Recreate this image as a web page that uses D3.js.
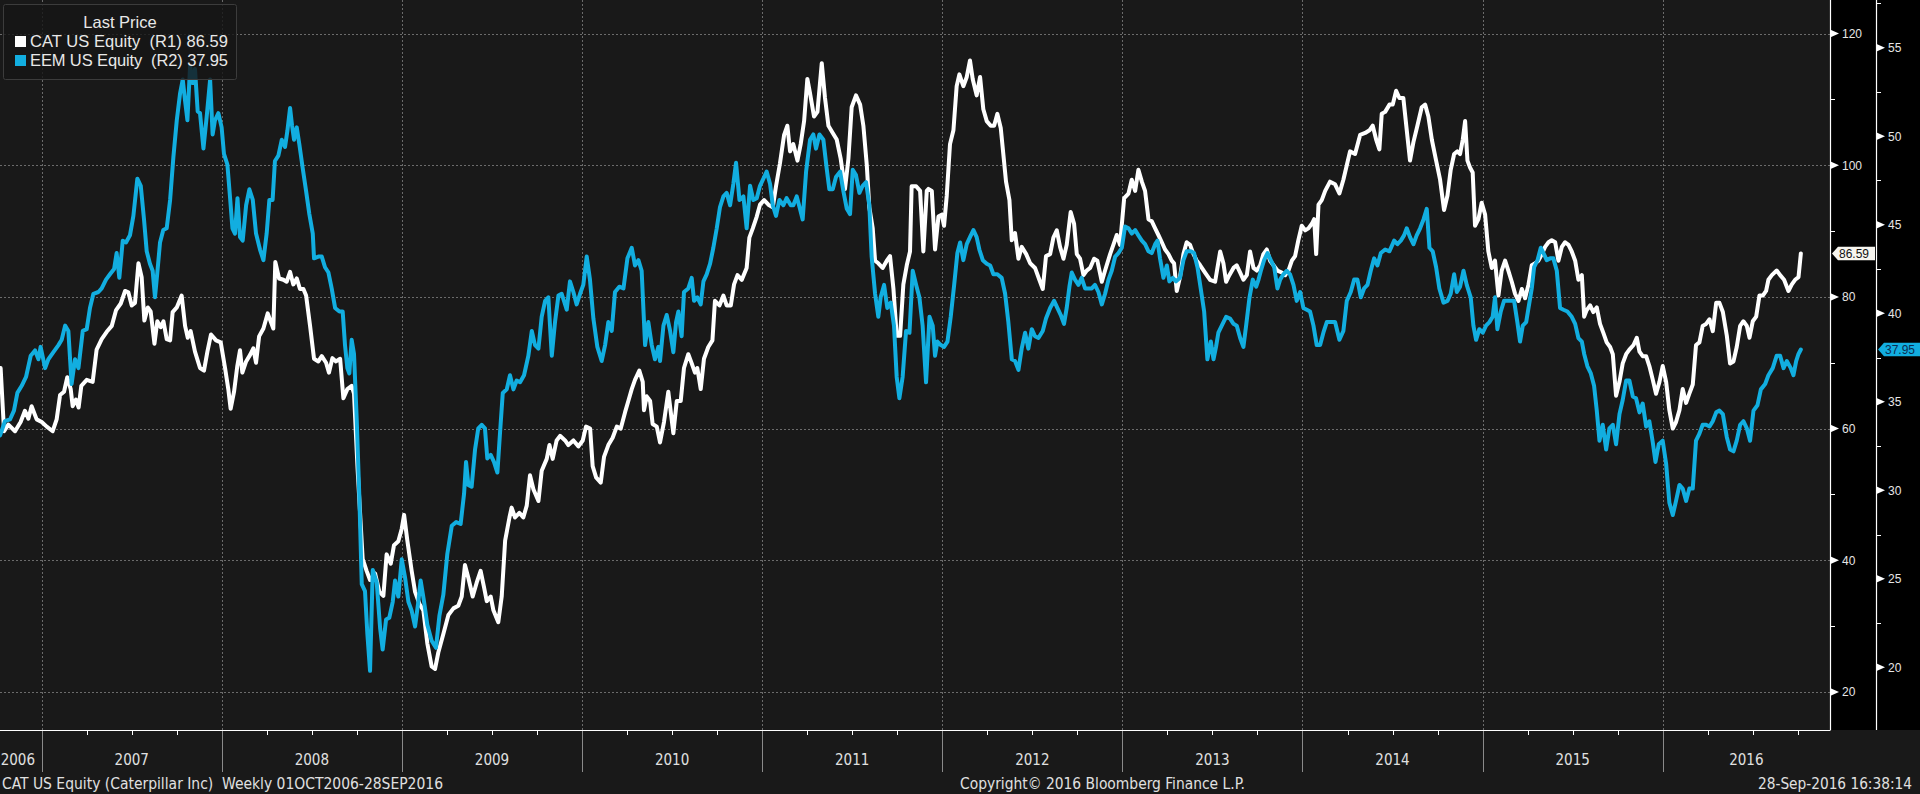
<!DOCTYPE html>
<html lang="en">
<head>
<meta charset="UTF-8">
<title>CAT vs EEM</title>
<script src="https://d3js.org/d3.v7.min.js"></script>
<style>
    body { margin: 0; background-color: #191919; overflow: hidden; }
    svg { display: block; }
    .lbl { font-family: "Liberation Sans", Arial, sans-serif; }
    .narrow { font-family: "Liberation Sans Narrow", "DejaVu Sans Condensed", "Liberation Sans", sans-serif; }
</style>
</head>
<body>
<svg id="chart" width="1920" height="794"></svg>
<script>
// weekly closes, x = decimal year
const catSeries = [
 [2006.772,69.2],[2006.791,59.6],[2006.815,60.6],[2006.852,59.6],[2006.883,61.0],[2006.907,62.7],[2006.926,61.5],[2006.944,63.4],[2006.972,61.4],[2007.000,61.0],
 [2007.028,60.3],[2007.061,59.6],[2007.083,61.4],[2007.102,65.1],[2007.124,65.6],[2007.142,67.8],[2007.161,66.0],[2007.172,63.4],[2007.190,64.4],[2007.205,63.2],
 [2007.220,66.5],[2007.250,67.4],[2007.283,67.1],[2007.305,72.0],[2007.333,73.6],[2007.361,74.7],[2007.389,75.6],[2007.413,78.0],[2007.439,79.0],[2007.463,80.9],
 [2007.481,80.7],[2007.500,78.7],[2007.518,79.1],[2007.537,85.1],[2007.555,83.0],[2007.570,76.4],[2007.589,78.4],[2007.605,77.8],[2007.626,72.9],[2007.642,76.3],
 [2007.661,75.4],[2007.676,76.3],[2007.694,73.6],[2007.713,73.4],[2007.727,77.7],[2007.750,78.4],[2007.777,80.2],[2007.796,75.6],[2007.811,73.8],[2007.827,74.8],
 [2007.851,71.7],[2007.879,69.2],[2007.901,68.8],[2007.920,71.7],[2007.940,74.3],[2007.968,73.4],[2007.994,73.1],[2008.018,69.2],[2008.036,66.0],[2008.049,63.0],
 [2008.068,65.6],[2008.086,69.5],[2008.101,71.9],[2008.114,68.5],[2008.135,70.2],[2008.157,71.2],[2008.175,72.2],[2008.190,70.0],[2008.207,74.0],[2008.231,75.2],
 [2008.255,77.5],[2008.271,76.3],[2008.286,75.2],[2008.297,85.3],[2008.318,82.8],[2008.342,82.6],[2008.360,82.3],[2008.379,83.8],[2008.397,81.9],[2008.416,82.8],
 [2008.434,81.2],[2008.453,81.2],[2008.468,80.2],[2008.490,75.6],[2008.512,70.6],[2008.536,70.2],[2008.555,71.0],[2008.579,70.0],[2008.595,68.5],[2008.614,70.7],
 [2008.634,70.2],[2008.657,70.6],[2008.675,64.6],[2008.697,66.0],[2008.721,66.5],[2008.734,65.3],[2008.753,54.3],[2008.782,40.2],[2008.804,38.4],[2008.823,37.0],
 [2008.851,38.0],[2008.875,35.2],[2008.897,34.6],[2008.915,40.9],[2008.938,39.5],[2008.956,42.3],[2008.980,42.9],[2008.999,44.8],[2009.012,46.9],[2009.030,43.0],
 [2009.054,38.4],[2009.073,35.2],[2009.097,33.4],[2009.119,32.4],[2009.141,27.4],[2009.165,23.9],[2009.184,23.5],[2009.202,26.0],[2009.230,28.8],[2009.258,31.7],
 [2009.286,32.7],[2009.313,33.1],[2009.332,34.5],[2009.350,39.3],[2009.369,37.3],[2009.393,34.5],[2009.415,36.6],[2009.437,38.4],[2009.456,35.9],[2009.471,33.8],
 [2009.493,34.5],[2009.508,32.4],[2009.535,30.6],[2009.554,34.5],[2009.573,43.0],[2009.597,46.5],[2009.609,48.0],[2009.628,46.5],[2009.652,47.2],[2009.674,46.5],
 [2009.693,48.3],[2009.711,52.9],[2009.730,50.8],[2009.758,49.0],[2009.776,53.6],[2009.804,55.4],[2009.819,57.5],[2009.837,55.4],[2009.859,58.2],[2009.878,58.9],
 [2009.906,58.2],[2009.924,57.5],[2009.952,58.2],[2009.980,57.3],[2010.004,58.2],[2010.022,60.3],[2010.045,60.0],[2010.059,54.3],[2010.078,52.6],[2010.104,51.8],
 [2010.122,55.7],[2010.146,57.5],[2010.170,58.6],[2010.193,60.3],[2010.215,60.0],[2010.239,62.5],[2010.257,64.2],[2010.276,66.0],[2010.294,67.4],[2010.318,68.8],
 [2010.337,67.1],[2010.344,62.8],[2010.359,64.9],[2010.378,64.2],[2010.392,60.7],[2010.415,60.3],[2010.433,57.9],[2010.455,61.0],[2010.479,65.6],[2010.507,59.3],
 [2010.526,64.2],[2010.548,64.2],[2010.566,69.2],[2010.590,71.3],[2010.609,69.9],[2010.627,68.5],[2010.640,69.2],[2010.659,66.0],[2010.677,70.6],[2010.701,72.4],
 [2010.724,73.4],[2010.738,79.4],[2010.763,78.7],[2010.785,80.2],[2010.803,78.7],[2010.826,78.7],[2010.844,81.9],[2010.863,83.3],[2010.887,82.6],[2010.914,84.4],
 [2010.929,89.0],[2010.948,90.4],[2010.970,92.2],[2010.988,94.0],[2011.011,94.7],[2011.035,94.0],[2011.059,93.6],[2011.077,96.8],[2011.099,100.3],[2011.122,104.6],
 [2011.140,106.0],[2011.155,102.1],[2011.173,103.2],[2011.196,100.7],[2011.214,103.2],[2011.233,106.7],[2011.251,113.1],[2011.266,110.9],[2011.288,107.4],[2011.307,108.1],
 [2011.331,115.5],[2011.349,110.2],[2011.368,106.0],[2011.392,104.9],[2011.414,103.9],[2011.436,101.0],[2011.460,96.4],[2011.479,101.0],[2011.497,108.8],[2011.521,110.6],
 [2011.544,109.2],[2011.562,106.0],[2011.581,100.0],[2011.595,93.6],[2011.614,90.4],[2011.627,85.5],[2011.645,85.1],[2011.669,84.4],[2011.692,85.5],[2011.710,86.2],
 [2011.729,81.2],[2011.747,74.1],[2011.766,74.1],[2011.784,81.9],[2011.803,84.8],[2011.821,86.9],[2011.830,96.8],[2011.855,96.8],[2011.877,96.1],[2011.895,86.9],
 [2011.914,96.1],[2011.923,96.4],[2011.942,96.1],[2011.960,87.2],[2011.979,92.2],[2011.997,92.5],[2012.010,90.8],[2012.025,95.4],[2012.043,103.2],[2012.062,105.3],
 [2012.080,112.0],[2012.095,113.8],[2012.117,112.0],[2012.136,113.4],[2012.154,115.9],[2012.169,113.1],[2012.191,110.6],[2012.210,113.4],[2012.228,108.5],[2012.247,106.7],
 [2012.269,106.0],[2012.288,106.0],[2012.306,107.8],[2012.325,105.6],[2012.339,101.7],[2012.354,97.5],[2012.373,94.7],[2012.386,88.6],[2012.404,89.7],[2012.423,85.8],
 [2012.441,87.6],[2012.466,86.5],[2012.488,85.1],[2012.515,84.4],[2012.539,82.6],[2012.558,81.2],[2012.576,86.2],[2012.599,86.5],[2012.617,89.0],[2012.636,90.1],
 [2012.654,87.6],[2012.673,85.8],[2012.691,87.9],[2012.713,92.9],[2012.732,91.1],[2012.747,86.5],[2012.765,85.8],[2012.784,83.3],[2012.802,84.0],[2012.821,84.4],
 [2012.843,85.8],[2012.861,85.5],[2012.886,82.3],[2012.904,84.0],[2012.932,86.5],[2012.950,87.9],[2012.969,89.4],[2012.987,87.9],[2013.010,95.0],[2013.034,95.7],
 [2013.052,97.8],[2013.071,96.1],[2013.089,99.3],[2013.108,97.5],[2013.126,96.1],[2013.145,91.8],[2013.163,91.5],[2013.182,90.4],[2013.200,89.4],[2013.219,88.3],
 [2013.237,87.2],[2013.256,86.5],[2013.274,85.5],[2013.287,85.1],[2013.302,80.9],[2013.320,83.0],[2013.339,86.5],[2013.357,88.3],[2013.376,87.9],[2013.395,86.5],
 [2013.413,85.5],[2013.432,84.8],[2013.459,83.7],[2013.487,82.6],[2013.515,82.3],[2013.543,86.9],[2013.561,85.1],[2013.576,82.3],[2013.594,83.3],[2013.617,84.4],
 [2013.635,84.8],[2013.654,83.7],[2013.672,82.6],[2013.691,83.3],[2013.709,86.9],[2013.728,84.4],[2013.746,84.0],[2013.765,84.8],[2013.783,86.5],[2013.802,87.2],
 [2013.820,85.5],[2013.839,84.8],[2013.861,84.0],[2013.885,83.7],[2013.904,83.3],[2013.922,84.0],[2013.941,85.5],[2013.959,86.2],[2013.977,88.6],[2013.996,90.8],
 [2014.015,90.1],[2014.033,90.4],[2014.052,91.1],[2014.065,91.8],[2014.076,86.5],[2014.089,94.0],[2014.107,94.7],[2014.126,96.1],[2014.153,97.5],[2014.181,97.1],
 [2014.205,95.7],[2014.227,97.8],[2014.246,100.0],[2014.264,102.1],[2014.292,101.7],[2014.320,104.6],[2014.348,104.9],[2014.372,105.3],[2014.390,106.0],[2014.409,103.9],
 [2014.427,102.4],[2014.440,107.8],[2014.459,108.1],[2014.483,109.2],[2014.501,109.2],[2014.520,111.3],[2014.538,110.2],[2014.560,110.2],[2014.579,105.3],[2014.597,100.7],
 [2014.616,103.5],[2014.638,106.0],[2014.662,108.8],[2014.681,109.2],[2014.699,107.4],[2014.718,103.9],[2014.742,100.7],[2014.764,97.8],[2014.786,93.2],[2014.805,95.4],
 [2014.823,99.3],[2014.842,101.7],[2014.860,102.1],[2014.875,101.7],[2014.890,103.9],[2014.903,106.7],[2014.916,100.7],[2014.931,99.6],[2014.945,98.9],[2014.958,90.8],
 [2014.977,91.8],[2014.995,94.3],[2015.014,92.5],[2015.032,86.9],[2015.051,84.4],[2015.069,85.5],[2015.088,80.2],[2015.106,84.0],[2015.125,85.5],[2015.143,84.0],
 [2015.162,82.3],[2015.180,80.5],[2015.199,79.4],[2015.218,81.2],[2015.236,79.8],[2015.255,81.9],[2015.273,84.8],[2015.292,85.1],[2015.310,85.5],[2015.329,86.5],
 [2015.347,87.6],[2015.366,88.3],[2015.384,88.6],[2015.403,88.3],[2015.421,85.5],[2015.440,87.6],[2015.458,88.3],[2015.477,87.9],[2015.495,86.9],[2015.514,85.5],
 [2015.532,82.6],[2015.551,83.3],[2015.564,77.0],[2015.578,78.0],[2015.597,78.7],[2015.615,77.7],[2015.634,78.4],[2015.652,75.9],[2015.671,74.5],[2015.689,73.1],
 [2015.708,72.4],[2015.723,71.3],[2015.741,65.0],[2015.760,67.1],[2015.778,69.9],[2015.797,71.3],[2015.815,72.0],[2015.838,72.7],[2015.856,73.8],[2015.871,71.7],
 [2015.889,71.0],[2015.908,71.0],[2015.926,69.5],[2015.945,67.4],[2015.963,65.3],[2015.982,67.1],[2016.000,69.5],[2016.019,67.1],[2016.037,62.8],[2016.056,60.0],
 [2016.074,61.0],[2016.093,62.8],[2016.111,66.0],[2016.130,63.9],[2016.148,65.3],[2016.167,66.7],[2016.185,72.7],[2016.204,73.1],[2016.222,75.6],[2016.241,75.9],
 [2016.260,76.6],[2016.278,74.8],[2016.297,79.1],[2016.315,79.1],[2016.334,77.7],[2016.356,74.1],[2016.374,69.9],[2016.393,70.2],[2016.411,72.4],[2016.430,75.6],
 [2016.448,76.3],[2016.467,75.6],[2016.482,73.8],[2016.500,76.3],[2016.519,77.0],[2016.537,80.2],[2016.556,80.2],[2016.574,80.9],[2016.587,82.6],[2016.606,83.3],
 [2016.633,84.0],[2016.652,83.3],[2016.674,82.6],[2016.698,80.9],[2016.717,81.9],[2016.735,82.6],[2016.754,83.0],[2016.767,86.59]
];

const eemSeries = [
 [2006.769,33.1],[2006.796,33.9],[2006.824,34.0],[2006.846,34.5],[2006.865,35.5],[2006.889,35.9],[2006.913,36.4],[2006.939,37.6],[2006.963,37.9],[2006.982,37.4],
 [2006.994,38.1],[2007.019,36.9],[2007.037,37.4],[2007.065,37.8],[2007.093,38.2],[2007.111,38.5],[2007.130,39.3],[2007.148,39.0],[2007.166,36.0],[2007.185,37.4],
 [2007.204,36.9],[2007.228,39.0],[2007.250,39.1],[2007.268,40.3],[2007.287,41.1],[2007.315,41.2],[2007.333,41.4],[2007.357,41.9],[2007.379,42.2],[2007.402,42.5],
 [2007.416,43.4],[2007.431,42.0],[2007.450,44.1],[2007.468,44.0],[2007.490,44.4],[2007.509,45.5],[2007.531,47.6],[2007.550,47.2],[2007.568,45.3],[2007.583,43.5],
 [2007.601,42.8],[2007.616,42.4],[2007.629,40.9],[2007.642,42.3],[2007.657,44.0],[2007.675,44.7],[2007.694,44.8],[2007.713,46.4],[2007.731,48.8],[2007.750,50.9],
 [2007.768,52.4],[2007.783,53.2],[2007.796,52.0],[2007.809,50.9],[2007.824,54.0],[2007.838,53.0],[2007.851,53.8],[2007.866,51.4],[2007.879,51.3],[2007.898,49.3],
 [2007.916,51.1],[2007.935,53.2],[2007.949,50.1],[2007.962,50.9],[2007.981,51.3],[2007.999,50.5],[2008.012,49.0],[2008.031,48.4],[2008.046,46.5],[2008.059,44.8],
 [2008.073,44.5],[2008.087,46.5],[2008.101,44.3],[2008.116,44.1],[2008.135,46.1],[2008.153,47.0],[2008.172,46.4],[2008.190,44.5],[2008.212,43.6],[2008.231,43.0],
 [2008.249,44.5],[2008.264,46.4],[2008.282,46.4],[2008.295,48.6],[2008.314,48.9],[2008.333,49.8],[2008.351,49.4],[2008.364,50.3],[2008.379,51.6],[2008.390,50.6],
 [2008.401,49.8],[2008.416,50.5],[2008.431,49.5],[2008.449,48.2],[2008.468,46.9],[2008.486,45.6],[2008.505,44.5],[2008.512,43.1],[2008.536,43.2],[2008.555,43.2],
 [2008.573,42.6],[2008.592,42.3],[2008.610,41.4],[2008.629,40.3],[2008.653,40.1],[2008.671,40.1],[2008.684,38.2],[2008.697,36.9],[2008.708,36.6],[2008.721,38.5],
 [2008.734,37.7],[2008.749,34.0],[2008.764,29.5],[2008.777,24.7],[2008.795,24.3],[2008.808,21.9],[2008.823,19.8],[2008.838,25.5],[2008.860,24.8],[2008.879,22.2],
 [2008.893,21.0],[2008.912,22.7],[2008.930,22.8],[2008.949,23.7],[2008.962,24.9],[2008.980,24.0],[2008.999,26.1],[2009.017,25.1],[2009.036,23.7],[2009.054,23.2],
 [2009.073,22.3],[2009.091,23.7],[2009.104,24.9],[2009.123,23.7],[2009.141,22.4],[2009.165,21.5],[2009.189,21.1],[2009.208,22.9],[2009.230,24.1],[2009.252,26.4],
 [2009.277,28.0],[2009.301,28.2],[2009.326,28.1],[2009.345,29.8],[2009.356,31.6],[2009.369,30.3],[2009.387,30.2],[2009.406,32.3],[2009.424,33.5],[2009.443,33.7],
 [2009.461,33.5],[2009.474,31.8],[2009.493,32.0],[2009.511,31.6],[2009.530,31.0],[2009.545,33.3],[2009.560,35.5],[2009.582,35.7],[2009.600,36.5],[2009.619,35.7],
 [2009.637,36.2],[2009.656,36.1],[2009.678,36.5],[2009.702,37.6],[2009.721,39.0],[2009.739,38.2],[2009.758,38.0],[2009.776,39.8],[2009.795,40.7],[2009.813,40.9],
 [2009.832,37.6],[2009.850,39.5],[2009.869,41.0],[2009.887,41.1],[2009.915,40.2],[2009.933,41.8],[2009.952,41.2],[2009.970,40.5],[2009.989,41.1],[2010.007,41.6],
 [2010.026,43.2],[2010.044,41.9],[2010.063,39.7],[2010.085,38.1],[2010.109,37.3],[2010.128,38.2],[2010.146,39.5],[2010.165,39.0],[2010.183,41.2],[2010.207,41.5],
 [2010.230,41.4],[2010.252,43.1],[2010.276,43.7],[2010.294,42.7],[2010.313,43.0],[2010.331,42.4],[2010.350,38.2],[2010.368,39.5],[2010.387,38.2],[2010.405,37.4],
 [2010.424,38.1],[2010.433,37.3],[2010.452,39.3],[2010.470,39.9],[2010.489,39.0],[2010.507,37.8],[2010.522,39.5],[2010.535,40.1],[2010.553,38.7],[2010.566,41.2],
 [2010.590,41.4],[2010.609,42.0],[2010.622,40.7],[2010.640,40.9],[2010.659,40.5],[2010.674,41.8],[2010.692,42.2],[2010.711,42.8],[2010.729,43.7],[2010.748,44.8],
 [2010.766,46.0],[2010.785,46.6],[2010.803,46.8],[2010.822,46.1],[2010.840,47.3],[2010.855,48.5],[2010.874,46.4],[2010.896,46.6],[2010.914,44.8],[2010.933,47.2],
 [2010.951,46.4],[2010.970,46.5],[2010.988,47.2],[2011.007,47.6],[2011.025,48.0],[2011.044,47.3],[2011.059,46.1],[2011.077,45.5],[2011.096,46.4],[2011.118,46.1],
 [2011.136,46.5],[2011.159,46.1],[2011.173,46.1],[2011.192,46.6],[2011.210,45.9],[2011.225,45.3],[2011.244,48.0],[2011.266,49.8],[2011.284,50.1],[2011.299,49.3],
 [2011.318,50.1],[2011.340,49.8],[2011.358,48.2],[2011.373,47.0],[2011.392,47.0],[2011.410,47.7],[2011.433,48.0],[2011.451,46.9],[2011.470,45.9],[2011.488,45.6],
 [2011.503,48.1],[2011.521,47.8],[2011.540,46.8],[2011.558,47.2],[2011.577,47.4],[2011.595,46.1],[2011.608,43.2],[2011.627,41.1],[2011.645,39.8],[2011.658,40.9],
 [2011.677,41.6],[2011.695,40.3],[2011.714,40.6],[2011.732,39.3],[2011.747,36.4],[2011.762,35.2],[2011.780,36.4],[2011.799,39.0],[2011.818,38.9],[2011.836,42.4],
 [2011.855,41.6],[2011.873,40.9],[2011.891,39.3],[2011.910,36.1],[2011.929,39.8],[2011.947,39.3],[2011.960,37.6],[2011.973,38.4],[2011.992,38.2],[2012.010,38.1],
 [2012.029,38.4],[2012.047,39.8],[2012.066,41.6],[2012.084,43.4],[2012.099,44.0],[2012.117,43.0],[2012.136,43.9],[2012.154,44.3],[2012.173,44.7],[2012.191,44.3],
 [2012.206,43.6],[2012.225,43.0],[2012.247,42.8],[2012.266,42.7],[2012.284,42.2],[2012.306,42.2],[2012.330,42.0],[2012.349,41.1],[2012.367,39.5],[2012.386,37.4],
 [2012.404,37.3],[2012.423,36.8],[2012.441,38.0],[2012.460,38.9],[2012.478,38.0],[2012.497,39.1],[2012.515,38.7],[2012.534,38.6],[2012.558,39.0],[2012.576,39.7],
 [2012.599,40.3],[2012.621,40.7],[2012.639,40.3],[2012.658,39.9],[2012.676,39.4],[2012.691,40.3],[2012.706,41.5],[2012.719,42.3],[2012.737,41.9],[2012.756,41.6],
 [2012.774,42.0],[2012.793,41.4],[2012.811,41.4],[2012.830,41.4],[2012.848,41.6],[2012.867,41.2],[2012.886,40.5],[2012.904,41.1],[2012.923,41.9],[2012.941,42.4],
 [2012.960,43.2],[2012.978,43.4],[2012.997,43.7],[2013.015,44.9],[2013.034,44.8],[2013.052,44.5],[2013.071,44.7],[2013.089,44.4],[2013.108,44.1],[2013.126,43.9],
 [2013.145,43.5],[2013.163,43.4],[2013.182,43.9],[2013.195,44.1],[2013.209,43.1],[2013.228,42.0],[2013.247,42.7],[2013.261,41.8],[2013.280,42.0],[2013.298,41.8],
 [2013.320,42.0],[2013.339,43.0],[2013.357,43.5],[2013.380,43.5],[2013.398,43.4],[2013.417,42.6],[2013.435,41.4],[2013.454,40.1],[2013.472,37.4],[2013.491,38.4],
 [2013.506,37.4],[2013.520,38.1],[2013.533,38.9],[2013.552,39.3],[2013.576,39.8],[2013.598,39.7],[2013.617,39.4],[2013.635,39.3],[2013.654,38.6],[2013.672,38.1],
 [2013.687,39.3],[2013.706,40.9],[2013.724,41.9],[2013.743,41.5],[2013.756,41.9],[2013.769,42.4],[2013.787,43.0],[2013.806,43.4],[2013.824,43.0],[2013.843,42.6],
 [2013.861,41.4],[2013.876,41.9],[2013.894,42.2],[2013.913,42.4],[2013.931,42.2],[2013.950,41.6],[2013.968,40.7],[2013.987,41.2],[2014.005,40.3],[2014.024,40.2],
 [2014.042,40.1],[2014.061,39.3],[2014.079,38.2],[2014.098,38.2],[2014.116,38.9],[2014.135,39.5],[2014.157,39.5],[2014.181,39.5],[2014.205,38.5],[2014.227,39.0],
 [2014.246,40.7],[2014.268,41.2],[2014.287,41.9],[2014.305,41.9],[2014.324,40.9],[2014.342,41.4],[2014.361,41.6],[2014.379,42.4],[2014.398,43.1],[2014.416,42.7],
 [2014.435,43.4],[2014.459,43.6],[2014.483,43.5],[2014.509,44.1],[2014.527,43.9],[2014.546,44.1],[2014.564,44.4],[2014.579,44.8],[2014.597,44.3],[2014.616,43.9],
 [2014.634,44.4],[2014.653,44.8],[2014.672,45.3],[2014.690,45.9],[2014.705,43.7],[2014.723,43.5],[2014.742,42.6],[2014.760,41.4],[2014.783,40.6],[2014.805,40.7],
 [2014.823,41.1],[2014.842,42.2],[2014.857,41.2],[2014.875,41.5],[2014.894,42.4],[2014.912,41.6],[2014.934,40.9],[2014.949,39.3],[2014.964,38.5],[2014.982,39.1],
 [2015.001,38.9],[2015.019,39.3],[2015.038,39.5],[2015.056,39.8],[2015.069,40.9],[2015.082,39.1],[2015.101,40.1],[2015.119,40.7],[2015.138,40.7],[2015.156,40.7],
 [2015.175,40.7],[2015.193,39.5],[2015.208,38.4],[2015.223,39.3],[2015.242,39.5],[2015.255,40.3],[2015.273,41.4],[2015.286,42.6],[2015.305,43.0],[2015.323,43.7],
 [2015.338,43.4],[2015.356,43.0],[2015.375,43.1],[2015.393,43.1],[2015.412,42.4],[2015.430,40.3],[2015.449,40.2],[2015.471,40.1],[2015.495,39.8],[2015.514,39.4],
 [2015.532,38.6],[2015.551,38.4],[2015.564,37.7],[2015.582,37.0],[2015.601,36.6],[2015.619,35.9],[2015.634,34.5],[2015.649,32.8],[2015.667,33.7],[2015.686,32.3],
 [2015.704,33.5],[2015.723,33.7],[2015.741,32.6],[2015.760,34.3],[2015.778,35.1],[2015.797,36.2],[2015.815,36.2],[2015.834,35.3],[2015.852,35.2],[2015.871,34.4],
 [2015.889,34.9],[2015.908,33.6],[2015.926,33.9],[2015.945,32.7],[2015.960,31.6],[2015.978,32.6],[2016.000,32.8],[2016.019,31.5],[2016.037,29.3],[2016.056,28.6],
 [2016.074,29.4],[2016.093,30.3],[2016.111,30.1],[2016.130,29.4],[2016.148,30.1],[2016.167,30.1],[2016.185,32.8],[2016.204,33.2],[2016.222,33.7],[2016.241,33.7],
 [2016.260,33.6],[2016.278,33.9],[2016.297,34.4],[2016.315,34.5],[2016.334,34.3],[2016.356,33.0],[2016.374,32.3],[2016.393,32.2],[2016.411,32.8],[2016.430,33.7],
 [2016.448,33.9],[2016.467,33.5],[2016.485,32.8],[2016.504,34.5],[2016.526,34.8],[2016.545,35.7],[2016.569,36.0],[2016.587,36.5],[2016.611,36.9],[2016.633,37.6],
 [2016.652,37.6],[2016.671,36.9],[2016.689,37.3],[2016.711,36.9],[2016.726,36.5],[2016.741,37.3],[2016.754,37.7],[2016.767,37.95]
];

const r1Ticks = [20, 40, 60, 80, 100, 120];
const r1Minor = [30, 50, 70, 90, 110];
const r2Ticks = [20, 25, 30, 35, 40, 45, 50, 55];
const r2Minor = [22.5, 27.5, 32.5, 37.5, 42.5, 47.5, 52.5, 57.5];
const years = [2006, 2007, 2008, 2009, 2010, 2011, 2012, 2013, 2014, 2015, 2016];
const seriesNames = ["CAT US Equity  (R1)", "EEM US Equity  (R2)"];
const lastValues = ["86.59", "37.95"];
const footerLeft = "CAT US Equity (Caterpillar Inc)  Weekly 01OCT2006-28SEP2016";
const footerMid = "Copyright\u00A9 2016 Bloomberg Finance L.P.";
const footerRight = "28-Sep-2016 16:38:14";

const catColor = "#ffffff", eemColor = "#12aee0";
const plotW = 1830, plotH = 730, r2X = 1876;

const svg = d3.select("#chart");

const x = d3.scaleLinear().domain([2007, 2016]).range([41.7, 1662.7]);
const yCat = d3.scaleLinear().domain([20, 120]).range([692, 33.5]);
const yEem = d3.scaleLinear().domain([20, 55]).range([667.3, 47.7]);

// backgrounds
svg.append("rect").attr("width", 1920).attr("height", 794).attr("fill", "#191919");
svg.append("rect").attr("x", plotW).attr("y", 0).attr("width", 1920 - plotW).attr("height", plotH).attr("fill", "#000");

// grid
const grid = svg.append("g").attr("stroke", "#6b6b6b").attr("stroke-width", 1).attr("stroke-dasharray", "2,2");
grid.selectAll(".hg").data(r1Ticks).join("line")
    .attr("x1", 0).attr("x2", plotW)
    .attr("y1", d => Math.round(yCat(d)) + 0.5).attr("y2", d => Math.round(yCat(d)) + 0.5);
grid.selectAll(".vg").data(years.slice(1)).join("line")
    .attr("y1", 0).attr("y2", plotH)
    .attr("x1", d => Math.round(x(d)) + 0.5).attr("x2", d => Math.round(x(d)) + 0.5);

// lines
svg.append("clipPath").attr("id", "clip").append("rect").attr("width", plotW).attr("height", plotH);
const catLine = d3.line().x(d => x(d[0])).y(d => yCat(d[1]));
const eemLine = d3.line().x(d => x(d[0])).y(d => yEem(d[1]));
const lines = svg.append("g").attr("clip-path", "url(#clip)").attr("fill", "none")
    .attr("stroke-width", 4).attr("stroke-linejoin", "round").attr("stroke-linecap", "round");
lines.append("path").attr("d", catLine(catSeries)).attr("stroke", catColor);
lines.append("path").attr("d", eemLine(eemSeries)).attr("stroke", eemColor);

// x axis strip
svg.append("line").attr("x1", 0).attr("x2", plotW + 0.5).attr("y1", 730.5).attr("y2", 730.5)
    .attr("stroke", "#fff").attr("stroke-width", 1.2);
const quarters = d3.range(2006.75, 2016.76, 0.25).filter(q => Math.abs(q - Math.round(q)) > 0.01);
svg.append("g").selectAll("line").data(quarters).join("line")
    .attr("x1", d => Math.round(x(d)) + 0.5).attr("x2", d => Math.round(x(d)) + 0.5)
    .attr("y1", 731).attr("y2", 735).attr("stroke", "#fff");
svg.append("g").selectAll("line").data(years.slice(1)).join("line")
    .attr("x1", d => Math.round(x(d)) + 0.5).attr("x2", d => Math.round(x(d)) + 0.5)
    .attr("y1", 731).attr("y2", 772).attr("stroke", "#8a8a8a");
svg.append("g").selectAll("text").data(years).join("text")
    .attr("class", "narrow")
    .attr("x", d => (Math.max(x(d), -6) + Math.min(x(d + 1), plotW)) / 2)
    .attr("y", 765).attr("text-anchor", "middle")
    .attr("font-size", 15).attr("fill", "#e0e0e0")
    .text(d => d);

// right axes
function rightAxis(scale, ax, major, minor) {
    const g = svg.append("g");
    g.append("line").attr("x1", ax + 0.5).attr("x2", ax + 0.5).attr("y1", 0).attr("y2", plotH)
        .attr("stroke", "#fff").attr("stroke-width", 1.2);
    g.selectAll(".mn").data(minor).join("line")
        .attr("x1", ax).attr("x2", ax + 5)
        .attr("y1", d => Math.round(scale(d)) + 0.5).attr("y2", d => Math.round(scale(d)) + 0.5)
        .attr("stroke", "#fff");
    g.selectAll(".tri").data(major).join("path")
        .attr("d", d => { const y = scale(d); return `M${ax},${y - 4}L${ax + 9},${y}L${ax},${y + 4}Z`; })
        .attr("fill", "#fff");
    g.selectAll("text").data(major).join("text")
        .attr("class", "lbl")
        .attr("x", ax + 12).attr("y", d => scale(d)).attr("dy", "0.36em")
        .attr("font-size", 12).attr("fill", "#e6e6e6")
        .text(d => d);
}
rightAxis(yCat, plotW, r1Ticks, r1Minor);
rightAxis(yEem, r2X, r2Ticks, r2Minor);

// last price tags
function priceTag(y, x0, x1, fill, txtColor, label) {
    const g = svg.append("g");
    g.append("path")
        .attr("d", `M${x0},${y}L${x0 + 6},${y - 6.8}L${x1},${y - 6.8}L${x1},${y + 6.8}L${x0 + 6},${y + 6.8}Z`)
        .attr("fill", fill);
    g.append("text").attr("class", "lbl")
        .attr("x", x0 + 7).attr("y", y).attr("dy", "0.36em")
        .attr("font-size", 12).attr("fill", txtColor).text(label);
}
priceTag(yCat(+lastValues[0]), plotW + 2, r2X - 1, "#f7f5ef", "#111", lastValues[0]);
priceTag(yEem(+lastValues[1]), r2X + 2, 1920, eemColor, "#0b2c52", lastValues[1]);

// legend
const legend = svg.append("g");
legend.append("rect").attr("x", 3.5).attr("y", 4.5).attr("width", 233).attr("height", 75).attr("rx", 2)
    .attr("fill", "rgba(22,22,22,0.82)").attr("stroke", "#3c3c3c");
legend.append("text").attr("class", "lbl").attr("x", 120).attr("y", 28).attr("text-anchor", "middle")
    .attr("font-size", 16.5).attr("fill", "#e8e8e8").text("Last Price");
const rows = legend.selectAll(".row").data([catColor, eemColor]).join("g");
rows.append("rect").attr("x", 15).attr("y", (d, i) => 36 + i * 19).attr("width", 11).attr("height", 11).attr("fill", d => d);
rows.append("text").attr("class", "lbl").attr("x", 30).attr("y", (d, i) => 47 + i * 19)
    .attr("font-size", 16.5).attr("fill", "#e8e8e8").style("white-space", "pre")
    .attr("textLength", 198).attr("lengthAdjust", "spacing")
    .text((d, i) => seriesNames[i] + " " + lastValues[i]);

// footer
const foot = svg.append("g").attr("class", "narrow").attr("font-size", 16).attr("fill", "#e0e0e0");
foot.append("text").attr("x", 2).attr("y", 789).style("white-space", "pre")
    .attr("textLength", 441).attr("lengthAdjust", "spacingAndGlyphs").text(footerLeft);
foot.append("text").attr("x", 960).attr("y", 789)
    .attr("textLength", 285).attr("lengthAdjust", "spacingAndGlyphs").text(footerMid);
foot.append("text").attr("x", 1758).attr("y", 789)
    .attr("textLength", 154).attr("lengthAdjust", "spacingAndGlyphs").text(footerRight);
</script>
</body>
</html>
